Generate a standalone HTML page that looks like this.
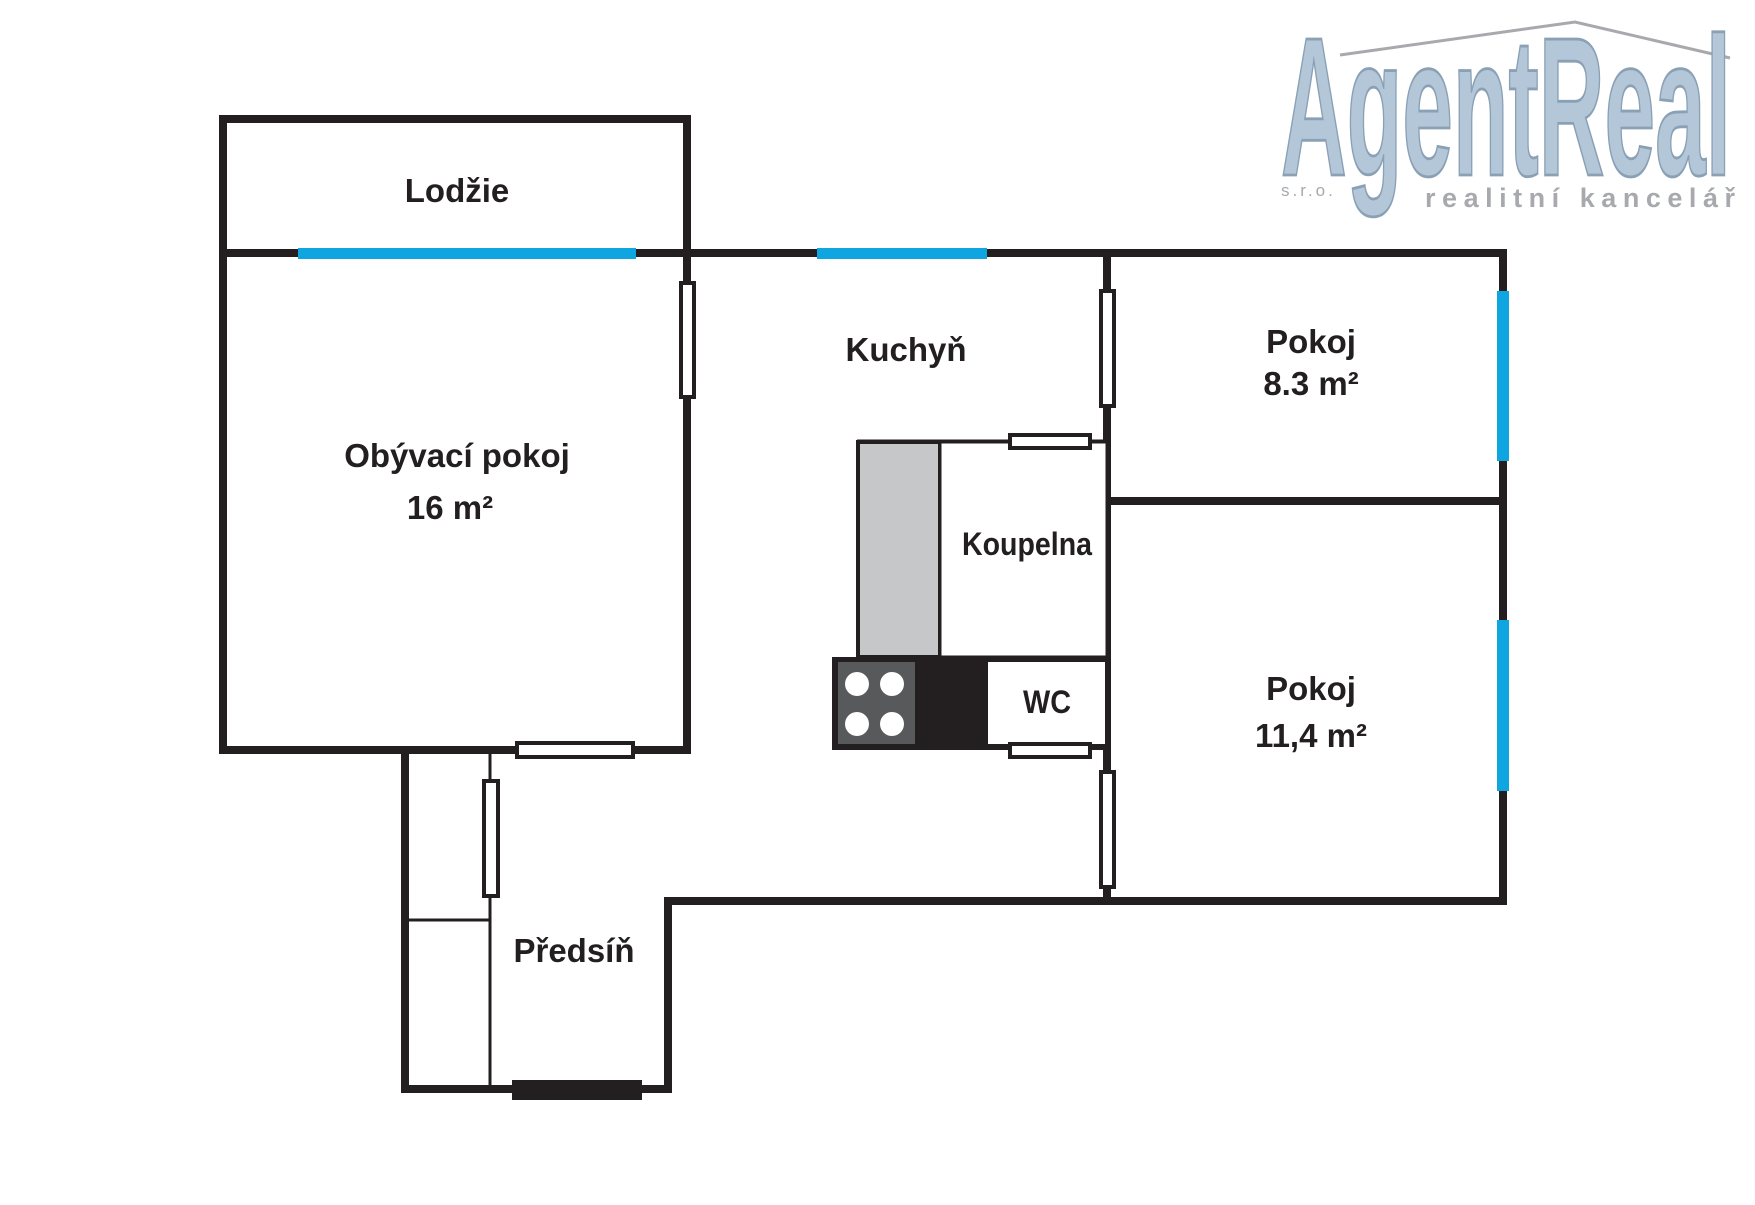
<!DOCTYPE html>
<html><head><meta charset="utf-8"><style>
body{margin:0;background:#fff;}
svg text{font-family:"Liberation Sans",sans-serif;font-weight:bold;fill:#231f20;}
</style></head><body>
<svg width="1755" height="1200" viewBox="0 0 1755 1200" xmlns="http://www.w3.org/2000/svg">
<rect width="1755" height="1200" fill="#fff"/>
<!-- logo -->
<polyline points="1340,55 1575,22 1730,58" fill="none" stroke="#a7a9ac" stroke-width="3"/>
<g transform="translate(1281,175) scale(0.72,1.9)">
<text x="0" y="0" font-size="104" style="fill:#b3c7d8;stroke:#8aa0b5;stroke-width:1.5" textLength="625" lengthAdjust="spacingAndGlyphs">AgentReal</text>
</g>
<text x="1281" y="196" font-size="17" style="fill:#a7a9ac;font-weight:normal" letter-spacing="3">s.r.o.</text>
<text x="1425" y="207" font-size="27" style="fill:#a7a9ac" textLength="310" lengthAdjust="spacing">realitní kancelář</text>

<g fill="none" stroke="#231f20" stroke-width="8" stroke-linecap="square">
<rect x="223" y="119" width="464" height="631"/>
<line x1="223" y1="253" x2="1503" y2="253"/>
<line x1="1107" y1="253" x2="1107" y2="901"/>
<line x1="1503" y1="253" x2="1503" y2="901"/>
<line x1="1107" y1="501" x2="1503" y2="501"/>
<line x1="668" y1="901" x2="1503" y2="901"/>
<line x1="668" y1="901" x2="668" y2="1089"/>
<line x1="405" y1="1089" x2="668" y2="1089"/>
<line x1="405" y1="750" x2="405" y2="1089"/>
</g>
<g stroke="#231f20" stroke-width="3">
<line x1="490" y1="750" x2="490" y2="1089"/>
<line x1="405" y1="920" x2="490" y2="920"/>
<line x1="857" y1="441" x2="1107" y2="441"/>
</g>
<g fill="#0ea5e0">
<rect x="298" y="248" width="338" height="11"/>
<rect x="817" y="248" width="170" height="11"/>
<rect x="1497" y="291" width="12" height="170"/>
<rect x="1497" y="620" width="12" height="171"/>
</g>
<rect x="858" y="442" width="82" height="215" fill="#c6c7c8" stroke="#231f20" stroke-width="4"/>
<rect x="940" y="442" width="167" height="215" fill="#fff" stroke="#231f20" stroke-width="3"/>
<rect x="832" y="657" width="275" height="93" fill="#231f20"/>
<rect x="838" y="662" width="77" height="82" fill="#58595b"/>
<rect x="988" y="662" width="117" height="82" fill="#fff"/>
<g fill="#fff"><circle cx="857" cy="684" r="12"/><circle cx="892" cy="684" r="12"/><circle cx="857" cy="724" r="12"/><circle cx="892" cy="724" r="12"/></g>
<g fill="#fff" stroke="#231f20" stroke-width="4">
<rect x="681" y="283" width="13" height="114"/>
<rect x="517" y="743" width="116" height="14"/>
<rect x="484" y="781" width="14" height="115"/>
<rect x="1101" y="291" width="13" height="115"/>
<rect x="1101" y="772" width="13" height="115"/>
<rect x="1010" y="435" width="80" height="13"/>
<rect x="1010" y="744" width="80" height="13"/>
</g>
<rect x="512" y="1080" width="130" height="20" fill="#231f20"/>
<g text-anchor="middle" font-size="33">
<text x="457" y="202">Lodžie</text>
<text x="906" y="361">Kuchyň</text>
<text x="457" y="467">Obývací pokoj</text>
<text x="450" y="519">16 m²</text>
<text x="1311" y="353">Pokoj</text>
<text x="1311" y="395">8.3 m²</text>
<text x="1311" y="700">Pokoj</text>
<text x="1311" y="747">11,4 m²</text>
<text x="574" y="962">Předsíň</text>
<text x="1027" y="555" font-size="32" textLength="130" lengthAdjust="spacingAndGlyphs">Koupelna</text>
<text x="1047" y="713" font-size="32" textLength="48" lengthAdjust="spacingAndGlyphs">WC</text>
</g>
</svg>
</body></html>
